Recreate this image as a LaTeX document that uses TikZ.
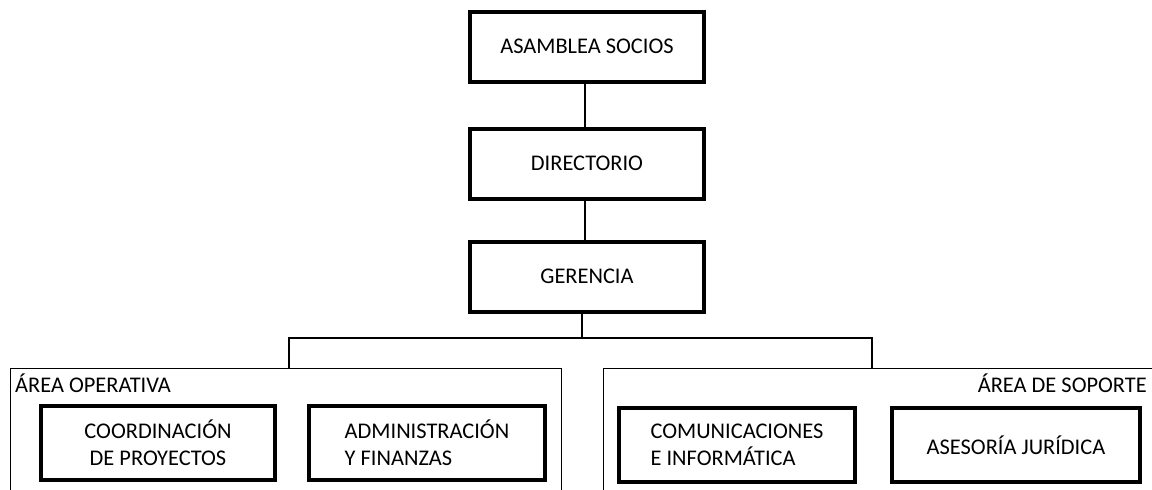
\documentclass[tikz,border=0pt]{standalone}
\usepackage{fontspec}
\setmainfont{Carlito}
\begin{document}
\begin{tikzpicture}[x=1pt,y=-1pt,
  topbox/.style={draw,line width=4pt,minimum width=234pt,minimum height=70pt,inner sep=0pt,font=\fontsize{22.4}{27}\selectfont},
  subbox/.style={draw,line width=4pt,inner sep=0pt,font=\fontsize{22.4}{27}\selectfont},
  areabox/.style={draw,line width=1.3pt,inner sep=0pt},
  conn/.style={line width=1.3pt},
  arealabel/.style={inner sep=0pt,font=\fontsize{22.4}{27}\selectfont}]
\useasboundingbox (0,0) rectangle (1152,490);
\clip (0,0) rectangle (1152,490);
% top chain
\node[topbox] (asamblea) at (587,46.5) {ASAMBLEA SOCIOS};
\node[topbox] (directorio) at (587,163.5) {DIRECTORIO};
\node[topbox] (gerencia) at (587,276.5) {GERENCIA};
\draw[conn] (asamblea.south -| 585,0) -- (directorio.north -| 585,0);
\draw[conn] (directorio.south -| 585,0) -- (gerencia.north -| 585,0);
% areas
\node[areabox,minimum width=551pt,minimum height=160pt,anchor=north west] (operativa) at (10,368) {};
\node[areabox,minimum width=600pt,minimum height=160pt,anchor=north west] (soporte) at (603,368) {};
\node[arealabel,anchor=west] at (15,383) {ÁREA OPERATIVA};
\node[arealabel,anchor=east] at (1147,383) {ÁREA DE SOPORTE};
% branch
\coordinate (hub) at (582,338);
\coordinate (lt) at (289,368);
\coordinate (rt) at (872,368);
\draw[conn] (gerencia.south -| hub) -- (hub);
\draw[conn] (hub) -| (lt);
\draw[conn] (hub) -| (rt);
% sub boxes
\node[subbox,minimum width=234pt,minimum height=74pt,align=center] (coord) at (158,443) {COORDINACIÓN\\DE PROYECTOS};
\node[subbox,minimum width=236pt,minimum height=74pt,align=left] (admin) at (427,443) {ADMINISTRACIÓN\\Y FINANZAS};
\node[subbox,minimum width=236pt,minimum height=74pt,align=left] (comu) at (737,445) {COMUNICACIONES\\E INFORMÁTICA};
\node[subbox,minimum width=248pt,minimum height=74pt,align=center] (ases) at (1016,445) {ASESORÍA JURÍDICA};
\end{tikzpicture}
\end{document}
